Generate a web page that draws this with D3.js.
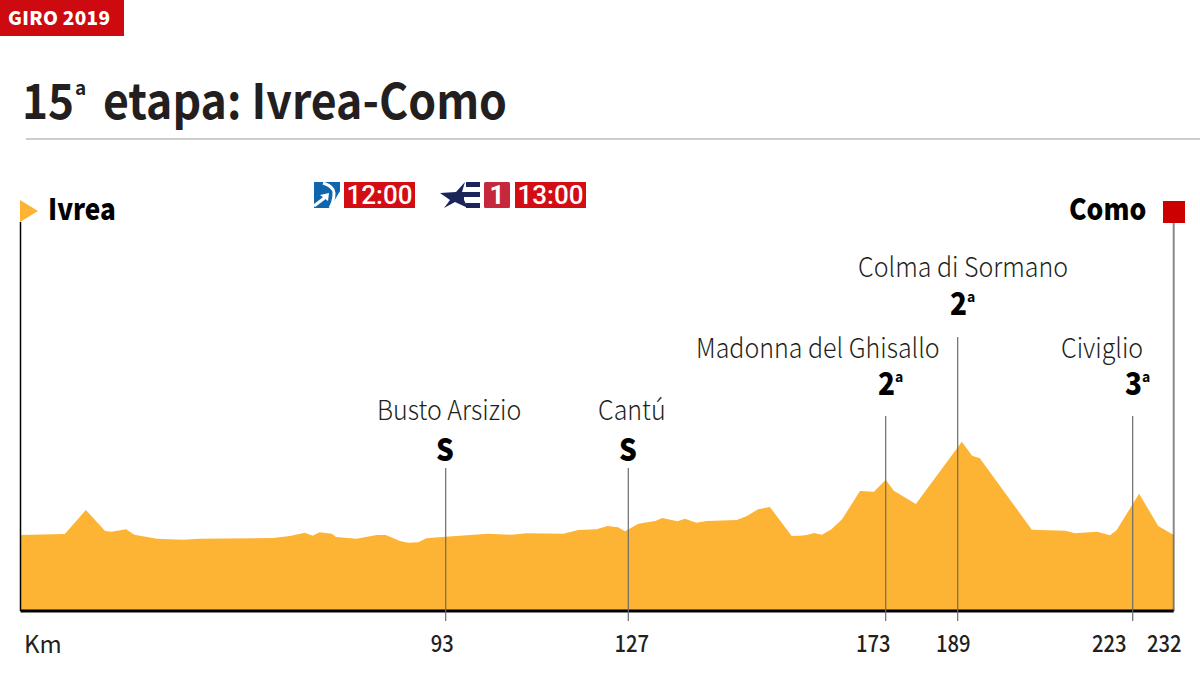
<!DOCTYPE html>
<html>
<head>
<meta charset="utf-8">
<script src="https://d3js.org/d3.v7.min.js"></script>
<style>
  body { margin: 0; background: #fff; }
  svg { display: block; }
  text { font-family: "Noto Sans CJK SC", "Noto Sans", sans-serif; }
</style>
</head>
<body>
<script>
// profile: km from start, altitude in metres
var km = [0, 9.7, 14.3, 18.5, 19.9, 23.1, 24.9, 29.8, 35.3, 39.3, 55.3, 58.9, 62.2, 63.9, 65.4, 68.1, 69.0, 73.5, 77.9, 79.9,
  83.0, 84.8, 87.0, 88.8, 93, 100.9, 105.3, 108.1, 114.9, 117.7, 121.1, 123.1, 125.1, 126.4,
  128.8, 131.8, 133.1, 135.8, 137.1, 139.2, 141.0, 146.4, 148.2, 150.2, 152.3, 156.2, 157.7, 158.9, 160.2, 161.6, 163.3, 165.2, 168.4, 170.9, 173,
  174.8, 179.7, 189.8, 191.8, 193.3, 203.4, 209.9, 211.8, 216.1, 218.6, 219.9, 224.4, 228.6, 232];
var altitude = [215, 225, 459, 254, 247, 271, 218, 179, 170, 179, 186, 206, 238, 209, 242, 228, 196, 179, 215, 215,
  157, 140, 144, 183, 199, 228, 218, 232, 228, 264, 271, 303, 290, 251,
  325, 352, 381, 349, 374, 335, 352, 361, 400, 466, 488, 206, 209, 215, 235, 218, 271, 368, 644, 637, 754,
  647, 517, 1124, 988, 962, 267, 257, 232, 247, 212, 264, 618, 303, 215];

// the km marks on the source are not evenly spaced, so the scale goes through them
var tickKm = [93, 127, 173, 189, 223, 232];
var climbs = ["Busto Arsizio", "Cantú", "Madonna del Ghisallo", "Colma di Sormano", "Civiglio"];
var climbKm = [93, 127, 173, 189, 223];
var climbCat = ["S", "S", "2", "2", "3"];
var climbRow = [1, 1, 2, 3, 2]; // which label row
var ends = ["Ivrea", "Como"];
var times = ["12:00", "13:00"];

var width = 1200, height = 675;
var bottom = 611;

var x = d3.scaleLinear()
  .domain([0, 93, 127, 173, 189, 223, 232])
  .range([20.5, 445.7, 628.3, 885.7, 957.7, 1132.7, 1173.7]);
var y = d3.scaleLinear().domain([-525, 1124]).range([bottom, 441.7]);

var svg = d3.select("body").append("svg").attr("width", width).attr("height", height);

// the source face is narrower than the installed one, squeeze the text to its width
function squeeze(sel, k) {
  sel.each(function() {
    d3.select(this).attr("textLength", this.getComputedTextLength() * k).attr("lengthAdjust", "spacingAndGlyphs");
  });
  return sel;
}

// header
svg.append("rect").attr("width", 124).attr("height", 36).attr("fill", "#cc0a0f");
svg.append("text").attr("x", 8).attr("y", 25).attr("fill", "#fff")
  .attr("font-size", 19).attr("font-weight", 900).attr("letter-spacing", 0.3).text("GIRO 2019");

var title = svg.append("g").attr("fill", "#231f20").attr("font-weight", 700);
squeeze(title.append("text").attr("x", 22).attr("y", 119).attr("font-size", 49).text("15"), 0.9);
title.append("text").attr("x", 75).attr("y", 95).attr("font-size", 19).text("a");
squeeze(title.append("text").attr("x", 103).attr("y", 119).attr("font-size", 49).text("etapa: Ivrea-Como"), 0.91);
svg.append("line").attr("x1", 26).attr("x2", 1200).attr("y1", 139).attr("y2", 139)
  .attr("stroke", "#bdbdbd").attr("stroke-width", 1.5);

// profile
var area = d3.area()
  .x(function(d, i) { return x(km[i]); })
  .y0(bottom)
  .y1(function(d) { return y(d); });
svg.append("path").datum(altitude).attr("d", area).attr("fill", "#fdb333");

// start and finish poles
svg.append("line").attr("x1", x(0)).attr("x2", x(0)).attr("y1", 222).attr("y2", bottom)
  .attr("stroke", "#000").attr("stroke-width", 1.5);
svg.append("line").attr("x1", x(232)).attr("x2", x(232)).attr("y1", 222).attr("y2", bottom)
  .attr("stroke", "#555").attr("stroke-opacity", 0.7).attr("stroke-width", 2);
svg.append("path").attr("d", "M20,200L38,211L20,222Z").attr("fill", "#fdb333");
svg.append("rect").attr("x", 1163).attr("y", 201).attr("width", 22).attr("height", 22).attr("fill", "#cc0000");
squeeze(svg.append("text").attr("x", 48).attr("y", 220).attr("font-size", 30).attr("font-weight", 900).attr("fill", "#000").text(ends[0]), 0.87);
squeeze(svg.append("text").attr("x", 1069).attr("y", 220).attr("font-size", 30).attr("font-weight", 900).attr("fill", "#000").text(ends[1]), 0.88);

// km axis
var tickDx = [-4, 3, -13, -5, -24, -10];
var axis = d3.axisBottom(x).tickValues(tickKm).tickSize(0).tickPadding(0).tickFormat(d3.format("d"));
var gAxis = svg.append("g").attr("transform", "translate(0," + bottom + ")").call(axis);
gAxis.select(".domain").remove();
squeeze(gAxis.selectAll("text")
  .attr("y", 41).attr("dy", 0)
  .attr("dx", function(d, i) { return tickDx[i]; })
  .attr("font-size", 23).attr("font-weight", 500).attr("fill", "#231f20")
  .style("font-family", '"Noto Sans CJK SC", sans-serif'), 0.88);
svg.append("line").attr("x1", x(0)).attr("x2", x(232)).attr("y1", bottom).attr("y2", bottom)
  .attr("stroke", "#000").attr("stroke-width", 3);
svg.append("text").attr("x", 24).attr("y", 653).attr("font-size", 24).attr("fill", "#231f20").text("Km");

// climbs and sprints
var rowName = { 1: 420, 2: 358, 3: 277 };
var rowCat = { 1: 461, 2: 395, 3: 315 };
var rowLine = { 1: 468, 2: 416, 3: 337 };
var nameX = [377, 598, 696, 858, 1061];
var catX = [436, 619, 878, 950, 1125];

climbs.forEach(function(name, i) {
  var row = climbRow[i];
  svg.append("line").attr("x1", x(climbKm[i])).attr("x2", x(climbKm[i]))
    .attr("y1", rowLine[row]).attr("y2", 621)
    .attr("stroke", "#6b6b6b").attr("stroke-width", 1.2);
  squeeze(svg.append("text").attr("x", nameX[i]).attr("y", rowName[row])
    .attr("font-size", 27).attr("font-weight", 300).attr("fill", "#231f20").text(name), 0.925);
  squeeze(svg.append("text").attr("x", catX[i]).attr("y", rowCat[row])
    .attr("font-weight", 900).attr("font-size", 31).attr("fill", "#000").text(climbCat[i]), 0.9);
  if (climbCat[i] != "S") {
    svg.append("text").attr("x", catX[i] + 17).attr("y", rowCat[row] - 13).attr("font-weight", 700)
      .attr("font-size", 14).attr("fill", "#000").text("a");
  }
});

// tv channel marks
function timeBox(bx, label) {
  svg.append("rect").attr("x", bx).attr("y", 182).attr("width", 71).attr("height", 26).attr("fill", "#d30d14");
  svg.append("text").attr("x", bx + 35.5).attr("y", 204).attr("text-anchor", "middle")
    .attr("font-size", 26).attr("font-weight", 500).attr("fill", "#fff")
    .style("font-family", "Roboto, sans-serif").text(label);
}
timeBox(344, times[0]);
timeBox(515, times[1]);

var etb = svg.append("g").attr("transform", "translate(314,182)");
etb.append("rect").attr("width", 26).attr("height", 26).attr("fill", "#0f66ad");
etb.append("path").attr("d", "M26,9L26,26L16,26Z").attr("fill", "#fff");
etb.append("path").attr("d", "M9,1C15,3 20,6 20,11C20,16 19,21 16,26").attr("fill", "none")
  .attr("stroke", "#fff").attr("stroke-width", 3);
etb.append("path").attr("d", "M0,24L13,14").attr("fill", "none").attr("stroke", "#fff").attr("stroke-width", 3);
etb.append("path").attr("d", "M6,13L15,11L14,19Z").attr("fill", "#fff");

var star = svg.append("g").attr("transform", "translate(440,182)").attr("fill", "#1b2559");
star.append("path").attr("d", "M0,11L16,10L25,0L22,10L40,10L40,15L24,15L24,18L28,26L15,20L4,26L10,18Z");
star.append("rect").attr("x", 26).attr("y", 0).attr("width", 14).attr("height", 5);
star.append("rect").attr("x", 26).attr("y", 21).attr("width", 14).attr("height", 5);
svg.append("rect").attr("x", 484).attr("y", 182).attr("width", 26).attr("height", 26).attr("rx", 1.5).attr("fill", "#c5273c");
svg.append("text").attr("x", 497).attr("y", 204).attr("text-anchor", "middle").attr("font-size", 26).attr("font-weight", 700)
  .attr("fill", "#fff").style("font-family", "Roboto, sans-serif").text("1");
</script>
</body>
</html>
